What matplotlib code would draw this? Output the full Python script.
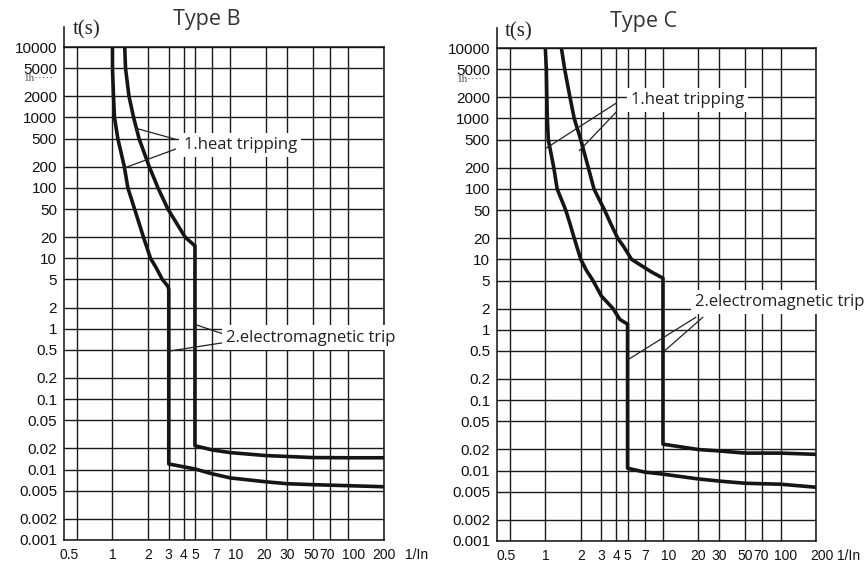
import numpy as np
import matplotlib.pyplot as plt
from matplotlib.transforms import ScaledTranslation, blended_transform_factory
from matplotlib.ticker import NullLocator

# Curvas de disparo de interruptores magnetotermicos (tipo B y tipo C)
x_ticks = [0.5, 1, 2, 3, 4, 5, 7, 10, 20, 30, 50, 70, 100, 200]
x_labels = ['0.5', '1', '2', '3', '4', '5', '7', '10', '20', '30', '50', '70', '100', '200']
y_ticks = [10000, 5000, 2000, 1000, 500, 200, 100, 50, 20, 10, 5, 2, 1,
           0.5, 0.2, 0.1, 0.05, 0.02, 0.01, 0.005, 0.002, 0.001]
y_labels = ['10000', '5000', '2000', '1000', '500', '200', '100', '50', '20', '10', '5', '2', '1',
            '0.5', '0.2', '0.1', '0.05', '0.02', '0.01', '0.005', '0.002', '0.001']

# Tipo B
b1_x = [1.0, 1.0, 1.02, 1.04, 1.11, 1.26, 1.35, 1.54, 1.83, 2.1, 2.34, 2.65, 2.95, 3.0,
        3.0, 5, 7, 10, 20, 30, 50, 100, 200]
b1_t = [10000, 5000, 2000, 1000, 500, 200, 100, 50, 20, 10, 7.4, 5, 4, 3.6,
        0.012, 0.0102, 0.0087, 0.0076, 0.0067, 0.0063, 0.0061, 0.0059, 0.0057]
b2_x = [1.27, 1.29, 1.38, 1.51, 1.68, 2.05, 2.43, 2.95, 4.13, 5.0,
        5.0, 7, 10, 20, 50, 100, 200]
b2_t = [10000, 5000, 2000, 1000, 500, 200, 100, 50, 20, 15,
        0.0218, 0.019, 0.0174, 0.0158, 0.0148, 0.0147, 0.0147]

# Tipo C
c1_x = [1.0, 1.02, 1.03, 1.04, 1.06, 1.18, 1.26, 1.49, 1.62, 1.76, 2.0, 2.23, 2.54, 3.0,
        3.76, 4.3, 5.0,
        5.0, 7, 10, 20, 30, 50, 100, 200]
c1_t = [10000, 5000, 2000, 1000, 500, 200, 100, 50, 32, 20, 10, 7, 5, 3,
        2, 1.4, 1.2,
        0.0108, 0.0095, 0.0089, 0.0076, 0.0071, 0.0066, 0.0064, 0.0058]
c2_x = [1.37, 1.46, 1.62, 1.76, 2.0, 2.32, 2.59, 2.89, 3.19, 3.6, 4.12, 4.65, 5.4, 8.0, 10,
        10, 20, 30, 50, 100, 200]
c2_t = [10000, 5000, 2000, 1000, 500, 200, 100, 69, 50, 32, 20, 15, 10, 6.6, 5.4,
        0.0237, 0.0199, 0.019, 0.0177, 0.0177, 0.017]

# Anotaciones: texto y lineas guia
b_heat_txt = (4.0, 404)
b_heat_lines = [[(1.57, 705), (3.42, 490)], [(1.24, 190), (3.42, 355)]]
b_em_txt = (9.25, 0.75)
b_em_lines = [[(5.0, 1.15), (8.55, 0.85)], [(3.0, 0.48), (8.55, 0.63)]]
c_heat_txt = (5.35, 1810)
c_heat_lines = [[(1.02, 380), (4.0, 1650)], [(1.95, 350), (4.0, 1230)]]
c_em_txt = (18.7, 2.45)
c_em_lines = [[(5.1, 0.38), (19, 1.5)], [(10.3, 0.5), (21.8, 1.5)]]

tick_font = 'Liberation Sans'
note_font = 'Open Sans'


def dibujar_panel(ax, curvas, titulo, notas, desplaz, t_pos, tit_pos):
    ax.set_xscale('log')
    ax.set_yscale('log')
    ax.set_xlim(0.388, 200)
    ax.set_ylim(0.001, 10000)
    ax.set_xticks(x_ticks)
    ax.set_xticklabels(x_labels, fontsize=10, family=tick_font, color='#111')
    ax.set_yticks(y_ticks)
    ax.set_yticklabels(y_labels, fontsize=11, family=tick_font, color='#111')
    ax.xaxis.set_minor_locator(NullLocator())
    ax.yaxis.set_minor_locator(NullLocator())
    ax.tick_params(axis='both', length=0)
    ax.tick_params(axis='x', pad=6)
    ax.tick_params(axis='y', pad=5)
    ax.grid(True, color='#1a1a1a', lw=1.0)
    for s in ax.spines.values():
        s.set_linewidth(1.1)
        s.set_color('#111')

    # pequeño ajuste de las etiquetas del eje x (en px)
    for lab, txt in zip(ax.get_xticklabels(), x_labels):
        dx = desplaz.get(txt, 0)
        if dx:
            lab.set_transform(lab.get_transform() +
                              ScaledTranslation(dx / 100, 0, fig.dpi_scale_trans))

    for cx, ct in curvas:
        ax.plot(cx, ct, color='#151515', lw=2.6, zorder=4)

    for texto, pos, lineas in notas:
        for (x0, y0), (x1, y1) in lineas:
            ax.plot([x0, x1], [y0, y1], color='#222', lw=0.9, zorder=5, clip_on=False)
        ax.text(pos[0], pos[1], texto, ha='left', va='center', fontsize=12,
                family=note_font, color='#222', zorder=6, clip_on=False,
                bbox=dict(boxstyle='square,pad=0.25', fc='white', ec='none'))

    # eje vertical prolongado y etiqueta t(s)
    ax.plot([0, 0], [1, 1.04], transform=ax.transAxes, color='#111', lw=1.1, clip_on=False)
    ax.text(t_pos[0], t_pos[1], 't(s)', transform=ax.transAxes, ha='center', va='center',
            fontsize=15, family='Liberation Serif', color='#222')
    ax.text(tit_pos[0], tit_pos[1], titulo, transform=ax.transAxes, ha='center', va='center',
            fontsize=15.5, family=note_font, color='#333')
    tr = blended_transform_factory(ax.transAxes, ax.transData)
    ax.text(-0.03, 3600, '1h·····', transform=tr, ha='right', va='center',
            fontsize=8, family='Liberation Serif', color='#555')
    ax.text(1.066, -0.016, '1/In', transform=ax.transAxes, ha='left', va='top',
            fontsize=10, family=tick_font, color='#111')


fig = plt.figure(figsize=(8.67, 5.64), dpi=100)
axB = fig.add_axes([0.0738, 0.0426, 0.369, 0.874])
axC = fig.add_axes([0.5732, 0.0408, 0.368, 0.874])

dibujar_panel(axB, [(b1_x, b1_t), (b2_x, b2_t)], 'Type B',
              [('1.heat tripping', b_heat_txt, b_heat_lines),
               ('2.electromagnetic trip', b_em_txt, b_em_lines)],
              {'0.5': -8, '7': 4, '10': 5, '20': -2, '50': -2, '70': -3, '100': 5},
              (0.072, 1.035), (0.447, 1.055))
dibujar_panel(axC, [(c1_x, c1_t), (c2_x, c2_t)], 'Type C',
              [('1.heat tripping', c_heat_txt, c_heat_lines),
               ('2.electromagnetic trip', c_em_txt, c_em_lines)],
              {'0.5': -4, '10': 6, '70': -1, '100': 5, '200': 6},
              (0.069, 1.032), (0.46, 1.053))

fig.savefig('out.png', dpi=100, facecolor='white')
